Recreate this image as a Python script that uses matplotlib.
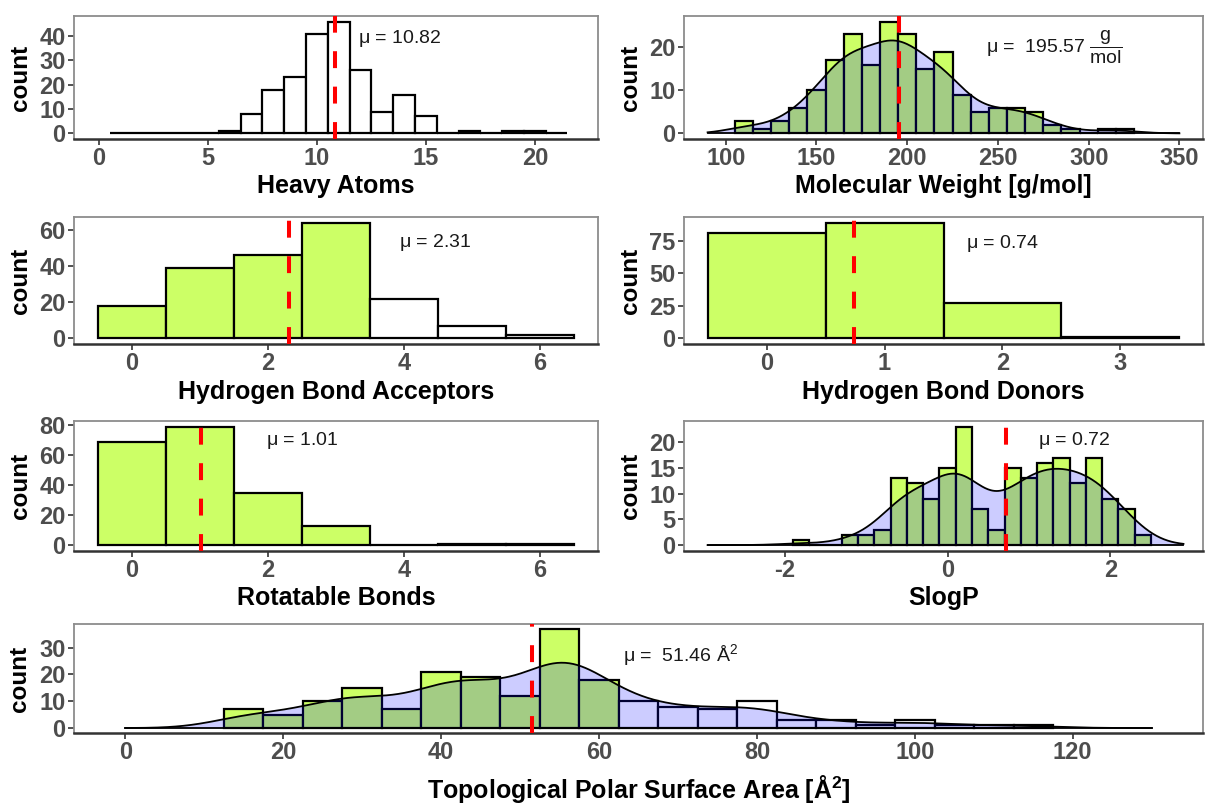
import numpy as np
import matplotlib
matplotlib.use("Agg")
import matplotlib.pyplot as plt

plt.rcParams['font.family'] = ['Liberation Sans', 'DejaVu Sans']
plt.rcParams['mathtext.fontset'] = 'custom'
plt.rcParams['mathtext.rm'] = 'Liberation Sans'
plt.rcParams['mathtext.it'] = 'Liberation Sans'
plt.rcParams['mathtext.bf'] = 'Liberation Sans:bold'
plt.rcParams['axes.unicode_minus'] = False

# ---- data (counts per bin, bin centres) ----
heavy_x = list(range(1, 22))
heavy_n = [0, 0, 0, 0, 0, 1, 8, 18, 23, 41, 46, 26, 9, 16, 7, 0, 1, 0, 1, 1, 0]
heavy_mean = 10.82

mw_x = list(range(110, 330, 10))
mw_n = [3, 1, 3, 6, 10, 17, 23, 16, 26, 23, 15, 19, 9, 5, 6, 6, 5, 2, 1, 0, 1, 1]
mw_mean = 195.57

hba_x = [0, 1, 2, 3, 4, 5, 6]
hba_n = [18, 39, 46, 64, 22, 7, 2]
hba_mean = 2.31

hbd_x = [0, 1, 2, 3]
hbd_n = [81, 89, 27, 1]
hbd_mean = 0.74

rb_x = [0, 1, 2, 3, 4, 5, 6]
rb_n = [69, 79, 35, 13, 0, 1, 1]
rb_mean = 1.01

slogp_x = [round(-1.8 + 0.2 * i, 1) for i in range(22)]
slogp_n = [1, 0, 0, 2, 2, 3, 13, 12, 9, 15, 23, 7, 3, 15, 13, 16, 17, 12, 17, 9, 7, 2]
slogp_mean = 0.72

tpsa_x = list(range(15, 120, 5))
tpsa_n = [7, 5, 10, 15, 7, 21, 19, 12, 37, 18, 10, 8, 7, 10, 3, 3, 1, 3, 1, 1, 1]
tpsa_mean = 51.46

# rule-of-three limits (bins above are left unfilled)
limits = {'heavy': None, 'mw': 300, 'hba': 3, 'hbd': 3, 'rb': 3, 'slogp': 3, 'tpsa': 60}

LIME = '#CCFF66'
W, H = 1206, 807


def rect(l, t, r, b):
    return [l / W, 1 - b / H, (r - l) / W, (b - t) / H]


def kde_counts(centers, counts, width, lo, hi):
    """gaussian kde (nrd0 bandwidth) scaled to histogram counts"""
    data = np.repeat(np.asarray(centers, float), counts)
    n = len(data)
    sd = data.std(ddof=1)
    iqr = np.subtract(*np.percentile(data, [75, 25]))
    bw = 0.9 * min(sd, iqr / 1.34) * n ** -0.2
    grid = np.linspace(lo, hi, 512)
    d = np.exp(-0.5 * ((grid[:, None] - data[None, :]) / bw) ** 2).sum(1)
    d /= n * bw * np.sqrt(2 * np.pi)
    return grid, d * n * width


def panel(ax, centers, counts, width, limit, mean, xlim, ylim, xticks, yticks,
          xlabel, mutext, mupos, kde=None):
    colors = []
    for c in centers:
        if limit is not None and c <= limit:
            colors.append(LIME)
        else:
            colors.append('white')
    ax.bar(centers, counts, width=width, color=colors, edgecolor='black',
           linewidth=1.6, zorder=2)
    if kde is not None:
        gx, gy = kde_counts(centers, counts, width, kde[0], kde[1])
        ax.fill_between(gx, 0, gy, color='#0000FF', alpha=0.2, lw=0, zorder=3)
        ax.plot(gx, gy, color='black', lw=1.3, zorder=3)
        ax.plot([kde[0], kde[1]], [0, 0], color='black', lw=1.3, zorder=3)
    ax.axvline(mean, color='#FF0000', lw=2.9, linestyle=(0, (4.2, 4.6)), zorder=4)
    ax.text(mupos[0], mupos[1], mutext, ha='center', va='center', fontsize=14,
            color='#1a1a1a', zorder=5)
    ax.set_xlim(xlim)
    ax.set_ylim(ylim)
    ax.set_xticks(xticks)
    ax.set_yticks(yticks)
    for s in ['left', 'top', 'right']:
        ax.spines[s].set_color('#8c8c8c')
        ax.spines[s].set_linewidth(1.3)
    ax.spines['bottom'].set_color('#333333')
    ax.spines['bottom'].set_linewidth(1.8)
    ax.tick_params(length=4, width=1.2, color='#333333', labelcolor='#4D4D4D',
                   labelsize=17, pad=2)
    for lab in ax.get_xticklabels() + ax.get_yticklabels():
        lab.set_fontweight('bold')
    ax.set_xlabel(xlabel, fontsize=18, fontweight='bold', color='black', va='center')
    ax.set_ylabel('count', fontsize=17.5, fontweight='bold', color='black', va='center')


fig = plt.figure(figsize=(W / 100, H / 100), dpi=100)

ax1 = fig.add_axes(rect(74, 16, 598, 139))
panel(ax1, heavy_x, heavy_n, 1, limits['heavy'], heavy_mean, (-1.15, 22.9),
      (-2.3, 48.3), [0, 5, 10, 15, 20], [0, 10, 20, 30, 40], 'Heavy Atoms',
      r'$\mathrm{\mu}$ = 10.82', (13.8, 39))

ax2 = fig.add_axes(rect(684, 16, 1203, 139))
panel(ax2, mw_x, mw_n, 10, limits['mw'], mw_mean, (77, 363), (-1.3, 27.3),
      [100, 150, 200, 250, 300, 350], [0, 10, 20], 'Molecular Weight [g/mol]',
      r'$\mathrm{\mu}$ =  195.57 $\mathrm{\dfrac{g}{mol}}$', (281, 20), kde=(90, 350))

ax3 = fig.add_axes(rect(74, 217, 598, 344))
panel(ax3, hba_x, hba_n, 1, limits['hba'], hba_mean, (-0.85, 6.85), (-3.2, 67.2),
      [0, 2, 4, 6], [0, 20, 40, 60], 'Hydrogen Bond Acceptors',
      r'$\mathrm{\mu}$ = 2.31', (4.46, 53))

ax4 = fig.add_axes(rect(684, 217, 1203, 344))
panel(ax4, hbd_x, hbd_n, 1, limits['hbd'], hbd_mean, (-0.7, 3.7), (-4.45, 93.45),
      [0, 1, 2, 3], [0, 25, 50, 75], 'Hydrogen Bond Donors',
      r'$\mathrm{\mu}$ = 0.74', (2.0, 73))

ax5 = fig.add_axes(rect(74, 421, 598, 551))
panel(ax5, rb_x, rb_n, 1, limits['rb'], rb_mean, (-0.85, 6.85), (-3.95, 82.95),
      [0, 2, 4, 6], [0, 20, 40, 60, 80], 'Rotatable Bonds',
      r'$\mathrm{\mu}$ = 1.01', (2.5, 70))

ax6 = fig.add_axes(rect(684, 421, 1203, 551))
panel(ax6, slogp_x, slogp_n, 0.2, limits['slogp'], slogp_mean, (-3.24, 3.14),
      (-1.15, 24.15), [-2, 0, 2], [0, 5, 10, 15, 20], 'SlogP',
      r'$\mathrm{\mu}$ = 0.72', (1.55, 20.3), kde=(-2.95, 2.9))

ax7 = fig.add_axes(rect(74, 624, 1203, 733))
panel(ax7, tpsa_x, tpsa_n, 5, limits['tpsa'], tpsa_mean, (-6.5, 136.5),
      (-1.85, 38.85), [0, 20, 40, 60, 80, 100, 120], [0, 10, 20, 30],
      r'Topological Polar Surface Area [Å$^{\mathbf{2}}$]',
      r'$\mathrm{\mu}$ =  51.46 Å$^2$', (70.3, 27.3), kde=(0, 130))

# label placement
for ax, yl in [(ax1, -0.38), (ax3, -0.378), (ax5, -0.36)]:
    ax.xaxis.set_label_coords(0.5, yl)
    ax.yaxis.set_label_coords(-0.103, 0.5)
for ax, yl in [(ax2, -0.38), (ax4, -0.378), (ax6, -0.36)]:
    ax.xaxis.set_label_coords(0.5, yl)
    ax.yaxis.set_label_coords(-0.104, 0.5)
ax7.xaxis.set_label_coords(0.5, -0.51)
ax7.yaxis.set_label_coords(-0.048, 0.5)

fig.savefig('out.png', dpi=100)
